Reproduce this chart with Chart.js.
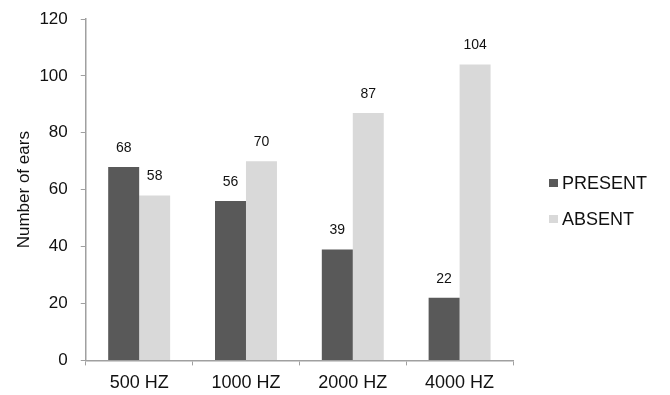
<!DOCTYPE html>
<html>
<head>
<meta charset="utf-8">
<script src="https://cdn.jsdelivr.net/npm/chart.js@4"></script>
<style>
  html, body { margin: 0; padding: 0; background: #fff; }
  #wrap { width: 670px; height: 395px; }
</style>
</head>
<body>
<div id="wrap"><canvas id="c" width="670" height="395"></canvas></div>
<script>
// Frequencies tested
const categories = ['500 HZ', '1000 HZ', '2000 HZ', '4000 HZ'];
// Ears with the response present / absent at each frequency
const presentValues = [68, 56, 39, 22];
const absentValues = [58, 70, 87, 104];
// Value axis ticks
const yTicks = [0, 20, 40, 60, 80, 100, 120];

const FONT = '"Liberation Sans", Arial, sans-serif';

// Writes each bar's value just above its top
const valueLabels = {
  id: 'valueLabels',
  afterDatasetsDraw(chart) {
    const ctx = chart.ctx;
    ctx.save();
    ctx.font = '14px ' + FONT;
    ctx.fillStyle = '#111';
    ctx.textAlign = 'center';
    ctx.textBaseline = 'bottom';
    chart.data.datasets.forEach((ds, i) => {
      chart.getDatasetMeta(i).data.forEach((bar, j) => {
        ctx.fillText(String(ds.data[j]), bar.x, bar.y - 12);
      });
    });
    ctx.restore();
  }
};

// Series key to the right of the plot: small square swatch, then the name
const sideLegend = {
  id: 'sideLegend',
  afterDraw(chart) {
    const ctx = chart.ctx;
    const area = chart.chartArea;
    const x = area.right + 36;
    const y0 = 184;
    ctx.save();
    ctx.font = '18px ' + FONT;
    ctx.textAlign = 'left';
    ctx.textBaseline = 'middle';
    chart.data.datasets.forEach((ds, i) => {
      const y = y0 + i * 36;
      ctx.fillStyle = ds.backgroundColor;
      ctx.fillRect(x, y - 5, 9, 8);
      ctx.fillStyle = '#111';
      ctx.fillText(ds.label, x + 13, y);
    });
    ctx.restore();
  }
};

new Chart(document.getElementById('c'), {
  type: 'bar',
  data: {
    labels: categories,
    datasets: [
      { label: 'PRESENT', data: presentValues, backgroundColor: '#595959',
        categoryPercentage: 0.58, barPercentage: 1.0 },
      { label: 'ABSENT', data: absentValues, backgroundColor: '#d9d9d9',
        categoryPercentage: 0.58, barPercentage: 1.0 }
    ]
  },
  options: {
    responsive: false,
    animation: false,
    layout: { padding: { top: 19, right: 157, left: 14, bottom: -6 } },
    plugins: {
      legend: { display: false },
      tooltip: { enabled: false }
    },
    scales: {
      x: {
        grid: { drawOnChartArea: false, drawTicks: true, tickLength: 5, color: '#a0a0a0' },
        border: { color: '#a0a0a0', width: 1.5 },
        ticks: { color: '#111', font: { family: FONT, size: 18 }, padding: 7 }
      },
      y: {
        min: 0, max: 120,
        afterBuildTicks(axis) { axis.ticks = yTicks.map(v => ({ value: v })); },
        // the wide label gap should not push the plot down from the top edge
        afterFit(axis) { axis.paddingTop = 0; axis.paddingBottom = 0; },
        grid: { drawOnChartArea: false, drawTicks: true, tickLength: 5, color: '#a0a0a0' },
        border: { color: '#a0a0a0', width: 1.5 },
        ticks: { color: '#111', font: { family: FONT, size: 17 }, padding: 13 },
        title: { display: true, text: 'Number of ears', color: '#111',
                 font: { family: FONT, size: 17 }, padding: { top: 0, bottom: -8 } }
      }
    }
  },
  plugins: [valueLabels, sideLegend]
});
</script>
</body>
</html>
